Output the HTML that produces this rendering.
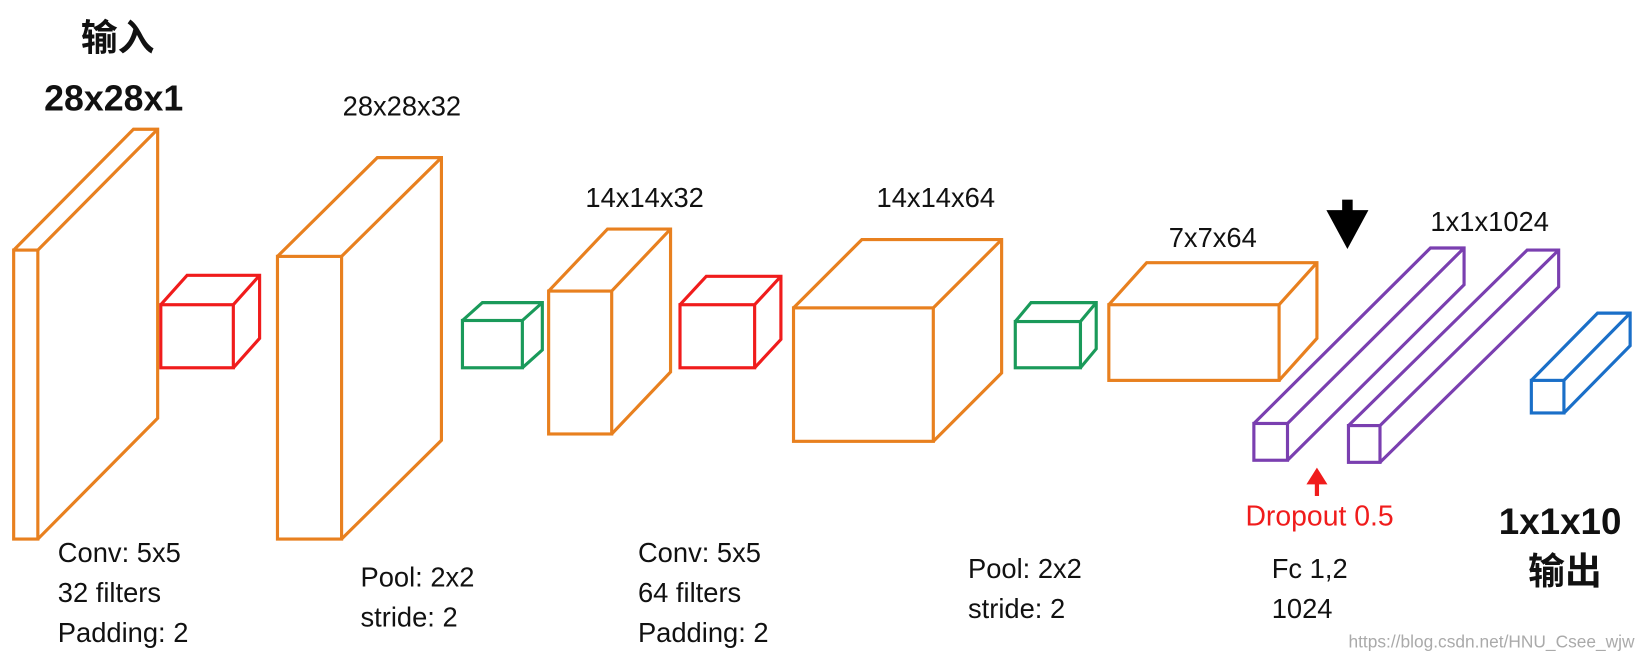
<!DOCTYPE html>
<html><head><meta charset="utf-8"><style>
body{margin:0;background:#fff;width:1648px;height:662px;overflow:hidden}
svg text{font-family:"Liberation Sans","Noto Sans CJK SC",sans-serif;fill:#111}
</style></head><body>
<svg width="1648" height="662" viewBox="0 0 1568 630" preserveAspectRatio="none" xmlns="http://www.w3.org/2000/svg">
<g fill="none" stroke-width="3" stroke-linejoin="miter">
<g stroke="#e8801f">
<rect x="13" y="238" width="23" height="275"/><path d="M13 238 L127 123 L150 123 L150 398 L36 513 M36 238 L150 123"/>
<rect x="264" y="244" width="61" height="269"/><path d="M264 244 L359 150 L420 150 L420 419 L325 513 M325 244 L420 150"/>
<rect x="522" y="277" width="60" height="136"/><path d="M522 277 L578 218 L638 218 L638 354 L582 413 M582 277 L638 218"/>
<rect x="755" y="293" width="133" height="127"/><path d="M755 293 L820 228 L953 228 L953 355 L888 420 M888 293 L953 228"/>
<rect x="1055" y="290" width="162" height="72"/><path d="M1055 290 L1091 250 L1253 250 L1253 322 L1217 362 M1217 290 L1253 250"/>
</g>
<g stroke="#f01c1c">
<rect x="153" y="290" width="69" height="60"/><path d="M153 290 L178 262 L247 262 L247 322 L222 350 M222 290 L247 262"/>
<rect x="647" y="290" width="71" height="60"/><path d="M647 290 L672 263 L743 263 L743 323 L718 350 M718 290 L743 263"/>
</g>
<g stroke="#1a9a5a">
<rect x="440" y="305" width="57" height="45"/><path d="M440 305 L459 288 L516 288 L516 333 L497 350 M497 305 L516 288"/>
<rect x="966" y="306" width="62" height="44"/><path d="M966 306 L981 288 L1043 288 L1043 332 L1028 350 M1028 306 L1043 288"/>
</g>
<g stroke="#7a3fb0">
<rect x="1193" y="403" width="32" height="35"/><path d="M1193 403 L1361 236 L1393 236 L1393 271 L1225 438 M1225 403 L1393 236"/>
<rect x="1283" y="405" width="30" height="35"/><path d="M1283 405 L1453 238 L1483 238 L1483 273 L1313 440 M1313 405 L1483 238"/>
</g>
<g stroke="#1a6fc8">
<rect x="1457" y="362" width="31" height="31"/><path d="M1457 362 L1520 298 L1551 298 L1551 329 L1488 393 M1488 362 L1551 298"/>
</g>
</g>
<rect x="1277" y="190" width="10" height="22" fill="#000"/>
<polygon points="1262,200 1302,200 1282,237" fill="#000"/>
<rect x="1251" y="455" width="4" height="17" fill="#f01c1c"/>
<polygon points="1243,461 1263,461 1253,445" fill="#f01c1c"/>
<text x="77" y="48" font-size="35" font-weight="bold">输入</text>
<text x="42" y="105" font-size="34" font-weight="bold">28x28x1</text>
<text x="326" y="110" font-size="26">28x28x32</text>
<text x="557" y="197" font-size="26">14x14x32</text>
<text x="834" y="197" font-size="26">14x14x64</text>
<text x="1112" y="235" font-size="26">7x7x64</text>
<text x="1361" y="220" font-size="26">1x1x1024</text>
<text x="1426" y="508" font-size="35" font-weight="bold">1x1x10</text>
<text x="1454" y="556" font-size="35" font-weight="bold">输出</text>
<text x="1185" y="500" font-size="27" style="fill:#f01c1c">Dropout 0.5</text>
<g font-size="26">
<text x="55" y="535">Conv: 5x5</text><text x="55" y="573">32 filters</text><text x="55" y="611">Padding: 2</text>
<text x="343" y="558">Pool: 2x2</text><text x="343" y="596">stride: 2</text>
<text x="607" y="535">Conv: 5x5</text><text x="607" y="573">64 filters</text><text x="607" y="611">Padding: 2</text>
<text x="921" y="550">Pool: 2x2</text><text x="921" y="588">stride: 2</text>
<text x="1210" y="550">Fc 1,2</text><text x="1210" y="588">1024</text>
</g>
<text x="1283" y="616" font-size="16.5" style="fill:#aaa">https://blog.csdn.net/HNU_Csee_wjw</text>
</svg>
</body></html>
